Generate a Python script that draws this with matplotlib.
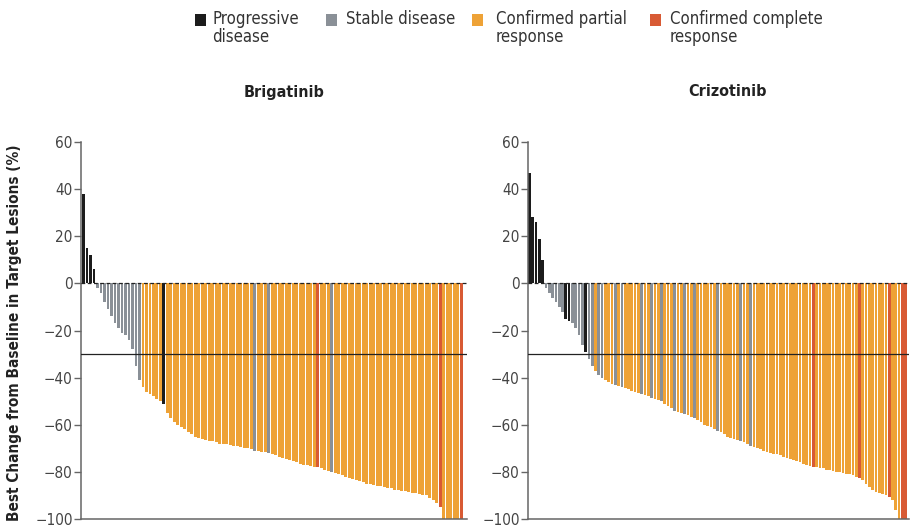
import matplotlib.pyplot as plt
from matplotlib.patches import Rectangle

plt.rcParams['font.family'] = ['DejaVu Sans']
plt.rcParams['font.stretch'] = 'condensed'

# response codes: P progressive, S stable, R confirmed partial, C confirmed complete
brig_change = [38, 15, 12, 6,
               -2, -4, -8, -11, -14, -17, -19, -21, -22, -24, -28, -35, -41,
               -44, -46, -47, -48, -49, -50,
               -51,
               -55, -57, -59, -60, -61, -62, -63, -64, -65, -65.5, -66, -66.5, -67,
               -67, -67.5, -68, -68, -68, -68.5, -69, -69, -69.5, -70, -70, -70.5,
               -71,
               -71, -71.5, -71.5,
               -72,
               -72.5, -73, -73.5, -74, -74.5, -75, -75.5, -76, -76.5, -77, -77, -77.5, -78,
               -78,
               -78.5, -79, -79.5,
               -80,
               -80.5, -81, -81.5, -82, -82.5, -83, -83.5, -84, -84.5, -85, -85, -85.5,
               -86, -86, -86.5, -87, -87, -87.5, -87.5, -88, -88, -88.5, -89, -89,
               -89.5, -90, -90, -91, -92, -93,
               -95,
               -100, -100, -100, -100, -100,
               -100]
brig_resp = ("PPPP" "SSSSSSSSSSSSS" "RRRRRR" "P" "RRRRRRRRRRRRRRRRRRRRRRRRR" "S" "RRR" "S"
             "RRRRRRRRRRRRR" "C" "RRR" "S" "RRRRRRRRRRRRRRRRRRRRRRRRRRRRRR" "C" "RRRRR" "C")

criz_change = [47, 28, 26, 19, 10,
               -2, -4, -6, -8, -10, -12,
               -15, -16,
               -17, -19, -22, -26,
               -29,
               -32, -35,
               -37,
               -39, -40,
               -41, -42, -42.5,
               -43,
               -43.5,
               -44,
               -44.5, -45, -45.5, -46, -46.5,
               -47,
               -47.5, -48,
               -48.5,
               -49, -49.5,
               -50,
               -51, -52, -53,
               -54,
               -54.5, -55,
               -55.5,
               -56, -56.5,
               -57,
               -58, -59, -60, -60.5, -61, -62,
               -62.5,
               -63, -64, -65, -65.5, -66, -66.5,
               -67,
               -67.5, -68,
               -69,
               -69.5, -70, -70.5, -71, -71.5, -72, -72.5, -72.5, -73, -73.5, -74, -74.5,
               -75, -75.5, -76, -76.5, -77, -77.5,
               -78,
               -78, -78.5, -78.5, -79, -79, -79.5, -80, -80, -80.5, -81, -81, -81.5, -82,
               -82.5,
               -83.5, -85, -86.5, -87.5, -88.5, -89, -89.5, -90,
               -90.5,
               -92, -96, -100,
               -100, -100]
criz_resp = ("PPPPP" "SSSSSS" "PP" "SSSS" "P" "SS" "R" "SS" "RRR" "S" "R" "S" "RRRRR" "S"
             "RR" "S" "RR" "S" "RRR" "S" "RR" "S" "RR" "S" "RRRRRR" "S" "RRRRRR" "S" "RR" "S"
             "RRRRRRRRRRRRRRRRRR" "C" "RRRRRRRRRRRRR" "C" "RRRRRRRR" "C" "RRR" "CC")

colors = {'P': '#1c1c1c', 'S': '#8a9097', 'R': '#eea236', 'C': '#d85a34'}
legend_items = [('P', 'Progressive\ndisease'), ('S', 'Stable disease'),
                ('R', 'Confirmed partial\nresponse'), ('C', 'Confirmed complete\nresponse')]

W, H = 913, 527
fig = plt.figure(figsize=(W / 100, H / 100), dpi=100)


def fx(px):
    return px / W


def fy(py):
    return 1 - py / H


def waterfall(ax, vals, codes, xlim):
    ax.bar(range(len(vals)), vals, width=0.84, color=[colors[c] for c in codes],
           linewidth=0, zorder=2)
    ax.axhline(0, color='#222', lw=0.9, ls=(0, (3, 2)), zorder=3)
    ax.axhline(-30, color='#222', lw=0.9, zorder=3)
    ax.set_xlim(*xlim)
    ax.set_ylim(-100, 60)
    ax.set_yticks(range(-100, 61, 20))
    ax.set_xticks([])
    for s in ('top', 'right'):
        ax.spines[s].set_visible(False)
    for s in ('left', 'bottom'):
        ax.spines[s].set_color('#666')
        ax.spines[s].set_linewidth(1.1)
    ax.tick_params(axis='y', direction='out', length=5, width=1, color='#666',
                   labelsize=11, labelcolor='#444', pad=1)


top, bot = 142, 519
axL = fig.add_axes([fx(81), fy(bot), fx(467) - fx(81), fy(top) - fy(bot)])
waterfall(axL, brig_change, brig_resp, (-0.71, 109.6))
axR = fig.add_axes([fx(528), fy(bot), fx(909) - fx(528), fy(top) - fy(bot)])
waterfall(axR, criz_change, criz_resp, (-0.45, 115.0))

fig.text(fx(284), fy(92), 'Brigatinib', ha='center', va='center',
         fontsize=11.5, fontweight='bold', color='#222')
fig.text(fx(727), fy(92), 'Crizotinib', ha='center', va='center',
         fontsize=11.5, fontweight='bold', color='#222')
fig.text(fx(15), fy(333), 'Best Change from Baseline in Target Lesions (%)',
         rotation=90, ha='center', va='center', fontsize=11,
         fontweight='bold', color='#222')

# legend row across the top
for (code, label), sx, tx in zip(legend_items, [195, 326, 472, 650], [212, 346, 496, 670]):
    fig.add_artist(Rectangle((fx(sx), fy(26)), fx(11), 12 / H, transform=fig.transFigure,
                             facecolor=colors[code], edgecolor='none'))
    fig.text(fx(tx), fy(10), label, ha='left', va='top', fontsize=12,
             color='#333', linespacing=1.0)

fig.savefig('out.png', dpi=100)
